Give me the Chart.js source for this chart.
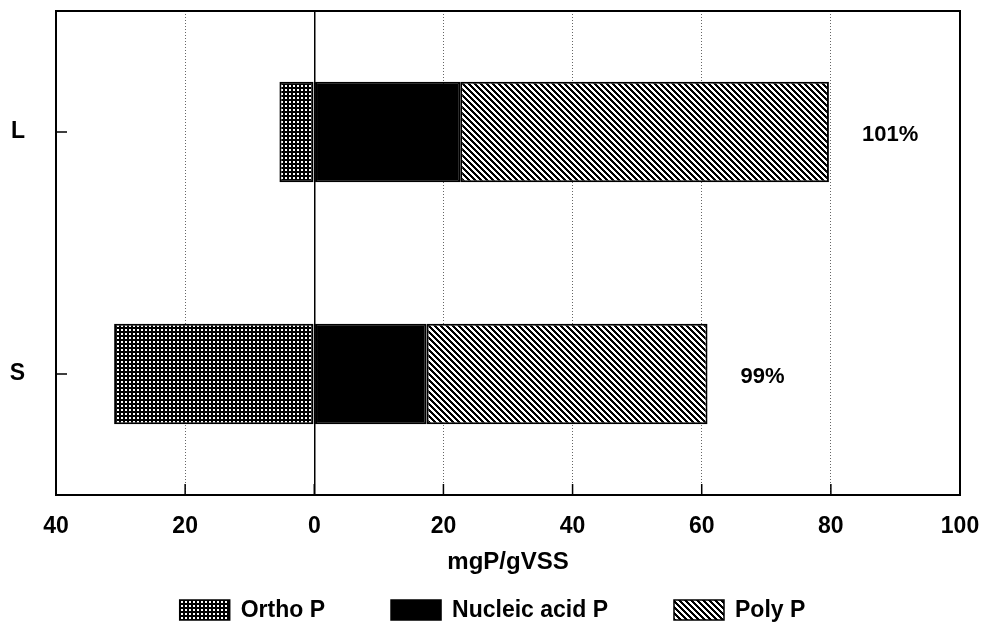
<!DOCTYPE html>
<html>
<head>
<meta charset="utf-8">
<title>Phosphorus fractions</title>
<script src="https://cdn.jsdelivr.net/npm/chart.js@4/dist/chart.umd.min.js"></script>
<style>
  html, body { margin: 0; padding: 0; background: #ffffff; }
  #wrap { width: 985px; height: 641px; }
</style>
</head>
<body>
<div id="wrap"><canvas id="chart" width="985" height="641"></canvas></div>
<script>
// Sludge samples and their phosphorus fractions (mgP/gVSS)
const categories = ['L', 'S'];
const orthoP = [-5.4, -31.0];       // plotted to the left of zero
const nucleicAcidP = [22.6, 17.4];
const polyP = [57.1, 43.5];
const recoveryLabels = ['101%', '99%'];
const seriesNames = ['Ortho P', 'Nucleic acid P', 'Poly P'];
const xTickValues = [-40, -20, 0, 20, 40, 60, 80, 100];
const xTitle = 'mgP/gVSS';

const FONT_FAMILY = '"Liberation Sans", Arial, Helvetica, sans-serif';
const FONT_SIZE = 23;

// Fill patterns for the bar segments
function makePattern(size, paint) {
  const c = document.createElement('canvas');
  c.width = size; c.height = size;
  const g = c.getContext('2d');
  paint(g, size);
  return g.createPattern(c, 'repeat');
}
const dotGrid = makePattern(4, (g) => {
  g.fillStyle = '#000'; g.fillRect(0, 0, 4, 4);
  g.fillStyle = '#fff'; g.fillRect(1, 1, 2, 2);
});
const hatch = makePattern(6, (g, n) => {
  g.fillStyle = '#fff'; g.fillRect(0, 0, n, n);
  g.fillStyle = '#000';
  for (let y = 0; y < n; y++) {
    for (let x = 0; x < n; x++) {
      if ((((x - y) % n) + n) % n < 3) g.fillRect(x, y, 1, 1);
    }
  }
});
const fills = [dotGrid, '#000000', hatch];

// Frame around the plot area plus short inward tick marks
const framePlugin = {
  id: 'frame',
  beforeDatasetsDraw(chart) {
    const { ctx, chartArea: a, scales } = chart;
    ctx.save();
    ctx.strokeStyle = '#000';
    ctx.lineWidth = 2;
    ctx.setLineDash([]);
    ctx.strokeRect(a.left, a.top, a.right - a.left, a.bottom - a.top);
    ctx.lineWidth = 1.5;
    ctx.beginPath();
    scales.x.ticks.forEach((t) => {
      const px = scales.x.getPixelForValue(t.value);
      ctx.moveTo(px, a.bottom);
      ctx.lineTo(px, a.bottom - 11);
    });
    categories.forEach((c, i) => {
      const py = scales.y.getPixelForValue(i);
      ctx.moveTo(a.left, py);
      ctx.lineTo(a.left + 11, py);
    });
    ctx.stroke();
    ctx.restore();
  }
};

// Recovery percentage written to the right of each bar
const recoveryPlugin = {
  id: 'recovery',
  afterDatasetsDraw(chart) {
    const { ctx } = chart;
    const last = chart.getDatasetMeta(chart.data.datasets.length - 1);
    ctx.save();
    ctx.fillStyle = '#000';
    ctx.font = 'bold ' + (FONT_SIZE - 1) + 'px ' + FONT_FAMILY;
    ctx.textAlign = 'left';
    ctx.textBaseline = 'middle';
    last.data.forEach((bar, i) => {
      ctx.fillText(recoveryLabels[i], bar.x + 33, bar.y + 3);
    });
    ctx.restore();
  }
};

// Legend row with pattern swatches under the axis title
const legendPlugin = {
  id: 'patternLegend',
  afterDraw(chart) {
    const { ctx, width } = chart;
    const boxW = 50, boxH = 20, gap = 11, spacing = 66;
    ctx.save();
    ctx.font = 'bold ' + FONT_SIZE + 'px ' + FONT_FAMILY;
    const widths = seriesNames.map((s) => boxW + gap + ctx.measureText(s).width);
    const total = widths.reduce((a, b) => a + b, 0) + spacing * (seriesNames.length - 1);
    let x = (width - total) / 2;
    const yc = 610;
    seriesNames.forEach((name, i) => {
      ctx.fillStyle = fills[i];
      ctx.fillRect(x, yc - boxH / 2, boxW, boxH);
      ctx.strokeStyle = '#000';
      ctx.lineWidth = 1.5;
      ctx.strokeRect(x, yc - boxH / 2, boxW, boxH);
      ctx.fillStyle = '#000';
      ctx.textAlign = 'left';
      ctx.textBaseline = 'middle';
      ctx.fillText(name, x + boxW + gap, yc + 1);
      x += widths[i] + spacing;
    });
    ctx.restore();
  }
};

// Fixed axis sizes with no extra edge padding for overhanging labels
function fixAxis(size) {
  return (s) => {
    if (s.isHorizontal()) s.height = size; else s.width = size;
    s.paddingTop = 0; s.paddingBottom = 0;
    s.paddingLeft = 0; s.paddingRight = 0;
  };
}

const seriesData = [orthoP, nucleicAcidP, polyP];

new Chart(document.getElementById('chart'), {
  type: 'bar',
  data: {
    labels: categories,
    datasets: seriesNames.map((name, i) => ({
      label: name,
      data: seriesData[i],
      backgroundColor: fills[i],
      borderColor: '#000',
      borderWidth: 2,
      borderSkipped: false
    }))
  },
  options: {
    indexAxis: 'y',
    responsive: false,
    animation: false,
    layout: { autoPadding: false, padding: { left: 0, right: 25, top: 11, bottom: 64 } },
    datasets: { bar: { barPercentage: 0.415, categoryPercentage: 1 } },
    plugins: {
      legend: { display: false },
      tooltip: { enabled: false }
    },
    scales: {
      x: {
        type: 'linear',
        stacked: true,
        min: -40,
        max: 100,
        afterBuildTicks: (s) => { s.ticks = xTickValues.map((v) => ({ value: v })); },
        afterFit: fixAxis(82),
        grid: {
          drawTicks: false,
          color: (c) => (c.tick && c.tick.value === 0 ? '#000' : '#666'),
          lineWidth: (c) => (c.tick && c.tick.value === 0 ? 1.5 : 1)
        },
        border: {
          display: false,
          dash: (c) => (c.tick && c.tick.value === 0 ? [] : [1, 2])
        },
        ticks: {
          color: '#000',
          padding: 18,
          maxRotation: 0,
          font: { family: FONT_FAMILY, size: FONT_SIZE, weight: 'bold' },
          callback: (v) => String(Math.abs(v))
        },
        title: {
          display: true,
          text: xTitle,
          color: '#000',
          padding: { top: 0, bottom: 0 },
          font: { family: FONT_FAMILY, size: FONT_SIZE + 1, weight: 'bold' }
        }
      },
      y: {
        type: 'category',
        stacked: true,
        afterFit: fixAxis(56),
        grid: { display: false, drawTicks: false },
        border: { display: false },
        ticks: {
          color: '#000',
          padding: 31,
          font: { family: FONT_FAMILY, size: FONT_SIZE, weight: 'bold' }
        }
      }
    }
  },
  plugins: [framePlugin, recoveryPlugin, legendPlugin]
});
</script>
</body>
</html>
